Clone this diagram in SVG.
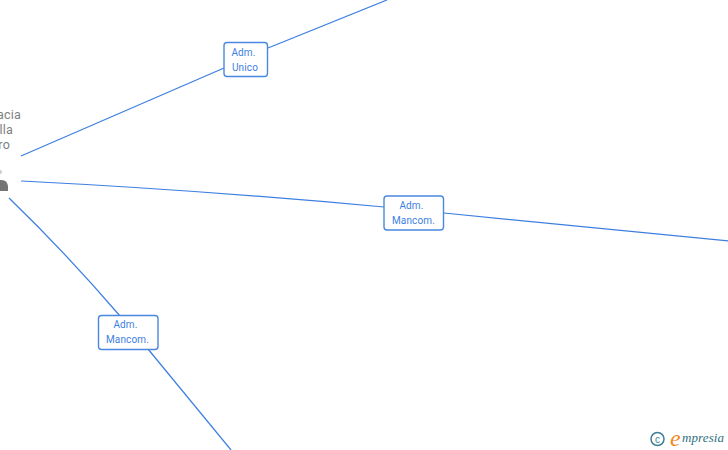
<svg xmlns="http://www.w3.org/2000/svg" width="728" height="450" viewBox="0 0 728 450">
<style>
.e{fill:none;stroke:#3d7fe0;stroke-width:1.25}
.b{fill:#fff;stroke:#4a88e0;stroke-width:1.4}
.l{font:10px Roboto,"Liberation Sans",sans-serif;fill:#3d7fe0;text-anchor:middle;letter-spacing:.15px}
.n{font:12.500px Roboto,"Liberation Sans",sans-serif;fill:#808080;letter-spacing:.2px}
</style>
<rect width="728" height="450" fill="#fff"/>
<g id="connectors">
<path class="e" d="M21 156L224 68"/>
<path class="e" d="M268 48L387 0"/>
<path class="e" d="M21 181Q200 190 384 207"/>
<path class="e" d="M444 213L728 241"/>
<path class="e" d="M9 198Q65 252 120 316"/>
<path class="e" d="M148 349L231 450"/>
</g>
<g id="person">
<text class="n" x="21" y="119" text-anchor="end">acia</text>
<text class="n" x="13" y="134" text-anchor="end">lla</text>
<text class="n" x="10" y="149" text-anchor="end">ro</text>
<path d="M0 191V180Q7 179 8 186V191Z" fill="#757575"/>
<circle cx="0" cy="172" r="2" fill="#ccc"/>
</g>
<g id="n1">
<rect class="b" x="224" y="42.500" width="43.500" height="34" rx="3"/>
<text class="l" x="243.500" y="56">Adm.</text>
<text class="l" x="245" y="71">Unico</text>
</g>
<g id="n2">
<rect class="b" x="384" y="196" width="59.500" height="34" rx="3"/>
<text class="l" x="411.500" y="209">Adm.</text>
<text class="l" x="413.500" y="224">Mancom.</text>
</g>
<g id="n3">
<rect class="b" x="98.500" y="315.500" width="59.500" height="34" rx="3"/>
<text class="l" x="125.500" y="328">Adm.</text>
<text class="l" x="127.500" y="343">Mancom.</text>
</g>
<g id="logo">
<circle cx="657.500" cy="439" r="6.500" fill="none" stroke="#3f7f95" stroke-width="1.500"/>
<text x="657.500" y="442.500" font-family="Liberation Sans, sans-serif" font-size="10" fill="#3f7f95" text-anchor="middle">c</text>
<text x="670" y="446" font-family="Liberation Serif, serif" font-style="italic" font-size="24" fill="#f08a1d">e</text>
<text x="682" y="442" font-family="Liberation Serif, serif" font-style="italic" font-size="13" letter-spacing=".1" fill="#2f6f80">mpresia</text>
</g>
</svg>
